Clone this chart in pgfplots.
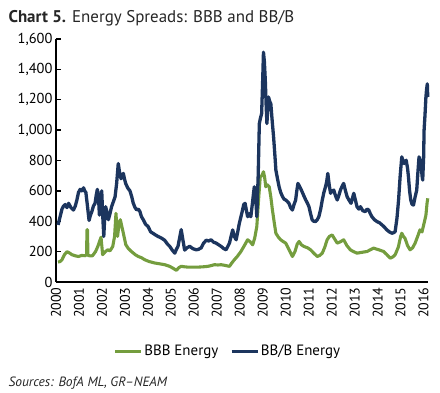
\documentclass[border=0pt]{standalone}
\usepackage{pgfplots}
\pgfplotsset{compat=1.18}
\usepackage{fontspec}
\setmainfont{PT Sans}
\definecolor{navyc}{RGB}{28,53,94}
\definecolor{greenc}{RGB}{116,157,62}
\begin{document}
\begin{tikzpicture}
\begin{axis}[
  scale only axis, width=372bp, height=243bp,
  xmin=2000, xmax=2016.19, ymin=0, ymax=1600,
  axis x line=bottom, axis y line=left,
  axis line style={-, line width=1.6bp, black},
  xtick={2000,...,2016},
  x tick label style={rotate=90, anchor=east, font=\fontsize{14}{16}\selectfont, /pgf/number format/1000 sep={}},
  xticklabel shift=2bp,
  x tick style={draw=none},
  ytick={0,200,...,1600},
  y tick label style={font=\fontsize{14.5}{16}\selectfont},
  y tick style={line width=1.4bp, black},
  tick align=inside, major tick length=5bp,
  /pgf/number format/assume math mode=true,
  /pgf/number format/1000 sep={,},
  clip=false,
  legend style={at={(0.461,-0.245)}, anchor=north, draw=none, legend columns=2,
    font=\fontsize{15}{17}\selectfont, nodes={inner sep=1.5bp},
    /tikz/every even column/.append style={column sep=10bp}},
  legend image code/.code={\draw[#1, line width=3.5bp] (0bp,0bp) -- (26bp,0bp);},
]
\addplot[greenc, line width=3.1bp, line join=round] coordinates {
(2000.09,131)(2000.18,135)(2000.26,146)(2000.37,180)(2000.48,200)(2000.60,190)(2000.69,180)(2000.85,172)(2000.98,168)(2001.12,175)(2001.27,173)
(2001.33,180)(2001.35,345)(2001.37,345)(2001.39,175)(2001.50,172)(2001.59,173)(2001.72,200)(2001.82,234)(2001.96,295)(2002.03,180)(2002.15,200)
(2002.25,212)(2002.35,205)(2002.47,234)(2002.55,300)(2002.61,452)(2002.68,300)(2002.75,390)(2002.80,410)(2002.90,343)(2003.04,245)(2003.15,220)
(2003.29,200)(2003.45,180)(2003.58,168)(2003.72,160)(2003.87,146)(2004.05,135)(2004.30,125)(2004.50,120)(2004.73,114)(2004.95,103)(2005.10,90)
(2005.24,77)(2005.35,95)(2005.45,103)(2005.60,100)(2005.74,98)(2006.00,98)(2006.18,98)(2006.40,100)(2006.61,103)(2006.75,108)(2006.90,114)
(2007.05,112)(2007.19,114)(2007.40,108)(2007.55,103)(2007.65,125)(2007.76,146)(2007.90,170)(2008.05,201)(2008.20,240)(2008.34,278)(2008.45,265)
(2008.56,245)(2008.65,290)(2008.74,365)(2008.82,550)(2008.89,693)(2008.96,700)(2009.03,726)(2009.08,690)(2009.13,627)(2009.20,640)(2009.28,627)
(2009.35,560)(2009.42,474)(2009.50,390)(2009.57,321)(2009.68,295)(2009.78,278)(2009.90,265)(2010.00,256)(2010.15,210)(2010.29,168)(2010.40,200)
(2010.50,250)(2010.58,267)(2010.68,245)(2010.79,234)(2010.95,225)(2011.08,212)(2011.22,190)(2011.37,168)(2011.48,175)(2011.59,190)(2011.70,230)
(2011.80,278)(2011.90,300)(2012.02,310)(2012.12,285)(2012.24,256)(2012.38,265)(2012.52,278)(2012.66,240)(2012.81,212)(2012.95,200)(2013.10,190)
(2013.30,195)(2013.54,201)(2013.68,212)(2013.82,223)(2014.05,212)(2014.26,201)(2014.40,180)(2014.55,157)(2014.66,165)(2014.76,179)(2014.90,230)
(2015.00,300)(2015.05,321)(2015.12,300)(2015.19,288)(2015.30,240)(2015.41,212)(2015.52,225)(2015.63,256)(2015.74,300)(2015.84,343)(2015.93,330)
(2016.02,387)(2016.10,440)(2016.15,520)(2016.18,551)
};
\addlegendentry{BBB Energy}
\addplot[navyc, line width=3.3bp, line join=round] coordinates {
(2000.09,376)(2000.18,430)(2000.26,480)(2000.33,500)(2000.40,510)(2000.48,490)(2000.55,518)(2000.65,490)(2000.76,474)(2000.84,500)(2000.91,540)
(2000.98,590)(2001.05,610)(2001.12,600)(2001.20,620)(2001.25,600)(2001.30,590)(2001.37,500)(2001.44,405)(2001.50,440)(2001.56,463)(2001.63,500)
(2001.70,518)(2001.75,570)(2001.80,610)(2001.85,560)(2001.89,440)(2001.94,540)(2001.99,600)(2002.04,420)(2002.08,300)(2002.12,420)(2002.16,496)
(2002.22,460)(2002.28,410)(2002.35,450)(2002.42,496)(2002.50,530)(2002.57,560)(2002.64,650)(2002.71,780)(2002.77,720)(2002.83,680)(2002.88,700)
(2002.93,715)(2002.98,680)(2003.03,650)(2003.12,620)(2003.22,600)(2003.30,560)(2003.36,520)(2003.44,490)(2003.51,475)(2003.58,480)(2003.65,465)
(2003.72,430)(2003.80,410)(2003.90,380)(2004.01,365)(2004.12,330)(2004.23,320)(2004.33,310)(2004.44,300)(2004.58,290)(2004.73,275)(2004.85,250)
(2004.95,235)(2005.06,210)(2005.17,190)(2005.24,215)(2005.31,235)(2005.38,290)(2005.45,345)(2005.52,280)(2005.60,210)(2005.70,225)(2005.82,235)
(2005.95,220)(2006.10,212)(2006.20,215)(2006.32,225)(2006.42,255)(2006.54,275)(2006.65,270)(2006.75,278)(2006.86,262)(2006.97,256)(2007.08,245)
(2007.19,234)(2007.30,220)(2007.40,212)(2007.48,235)(2007.55,256)(2007.62,300)(2007.69,343)(2007.76,300)(2007.84,278)(2007.91,330)(2007.98,387)
(2008.05,430)(2008.12,474)(2008.17,510)(2008.23,518)(2008.29,470)(2008.34,430)(2008.41,450)(2008.48,430)(2008.55,520)(2008.63,627)(2008.69,560)
(2008.74,430)(2008.80,700)(2008.85,1043)(2008.90,1080)(2008.95,1108)(2008.99,1300)(2009.03,1513)(2009.07,1450)(2009.11,1327)(2009.15,1150)
(2009.18,1043)(2009.22,1150)(2009.25,1218)(2009.30,1190)(2009.35,1174)(2009.41,1060)(2009.47,955)(2009.52,850)(2009.57,737)(2009.64,680)
(2009.71,627)(2009.78,590)(2009.86,562)(2009.93,545)(2010.00,540)(2010.07,530)(2010.14,518)(2010.21,490)(2010.29,474)(2010.36,510)(2010.43,540)
(2010.48,600)(2010.53,649)(2010.60,630)(2010.68,605)(2010.78,570)(2010.87,540)(2010.94,520)(2011.01,496)(2011.08,450)(2011.15,409)(2011.22,400)
(2011.30,398)(2011.37,410)(2011.44,430)(2011.52,480)(2011.59,540)(2011.66,590)(2011.73,627)(2011.78,660)(2011.83,715)(2011.89,640)(2011.95,584)
(2012.02,600)(2012.09,605)(2012.16,570)(2012.24,540)(2012.31,570)(2012.38,605)(2012.45,630)(2012.52,649)(2012.60,600)(2012.67,562)(2012.75,540)
(2012.84,518)(2012.90,550)(2012.96,584)(2013.03,540)(2013.10,496)(2013.18,480)(2013.25,496)(2013.35,470)(2013.46,463)(2013.54,480)(2013.61,474)
(2013.68,450)(2013.75,430)(2013.86,410)(2013.97,398)(2014.08,390)(2014.19,376)(2014.30,360)(2014.40,343)(2014.51,330)(2014.62,321)(2014.70,325)
(2014.76,332)(2014.84,420)(2014.91,540)(2014.98,700)(2015.05,824)(2015.10,800)(2015.15,780)(2015.20,790)(2015.24,802)(2015.30,750)(2015.34,693)
(2015.39,600)(2015.44,540)(2015.50,510)(2015.56,507)(2015.63,560)(2015.70,605)(2015.75,720)(2015.80,824)(2015.85,800)(2015.89,780)(2015.93,700)
(2015.96,671)(2016.00,820)(2016.02,999)(2016.06,1100)(2016.10,1218)(2016.13,1270)(2016.16,1305)(2016.18,1218)
};
\addlegendentry{BB/B Energy}
\node[anchor=base west, font=\fontsize{17}{19}\selectfont, color=black!85] at (rel axis cs:-0.137,1.066) {\textbf{Chart 5.} Energy Spreads: BBB and BB/B};
\node[anchor=base west, font=\fontsize{13.5}{15}\selectfont\itshape, color=black!85] at (rel axis cs:-0.137,-0.428) {Sources: BofA ML, GR--NEAM};
\path (rel axis cs:-0.1505,-0.4527) rectangle (rel axis cs:1.0323,1.1605);
\end{axis}
\end{tikzpicture}
\end{document}
